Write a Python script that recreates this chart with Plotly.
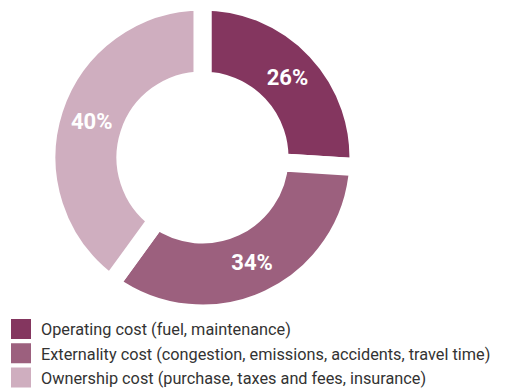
import plotly.graph_objects as go

# Cost components of car ownership (share of total, %)
categories = [
    "Operating cost (fuel, maintenance)",
    "Externality cost (congestion, emissions, accidents, travel time)",
    "Ownership cost (purchase, taxes and fees, insurance)",
]
shares = [26, 34, 40]
colors = ["#84365f", "#9c607e", "#cfaebf"]

fig = go.Figure()

fig.add_trace(go.Pie(
    labels=categories,
    values=shares,
    sort=False,
    direction="clockwise",
    rotation=0,
    hole=0.494,
    marker=dict(colors=colors, line=dict(color="white", width=18)),
    textinfo="percent",
    textposition="inside",
    insidetextorientation="horizontal",
    textfont=dict(family="Roboto", size=22, color="white", weight="bold"),
    domain=dict(x=[0.0893, 0.688], y=[0.2003, 0.9962]),
    showlegend=False,
    hoverinfo="label+percent",
))

# Legend entries with larger square swatches
for name, color in zip(categories, colors):
    fig.add_trace(go.Scatter(
        x=[None], y=[None], mode="markers", name=name,
        marker=dict(symbol="square", size=16, color=color,
                    line=dict(color=color, width=4)),
    ))

fig.update_layout(
    width=521, height=392,
    margin=dict(l=0, r=0, t=0, b=0, autoexpand=False),
    paper_bgcolor="white", plot_bgcolor="white",
    xaxis=dict(visible=False), yaxis=dict(visible=False),
    legend=dict(
        x=1 / 521, y=(392 - 312) / 392, xanchor="left", yanchor="top",
        font=dict(family="Roboto", size=16.3, color="#333333"),
        bgcolor="rgba(0,0,0,0)", borderwidth=0,
        itemclick=False, itemdoubleclick=False,
    ),
)

fig.write_html("out.html")
